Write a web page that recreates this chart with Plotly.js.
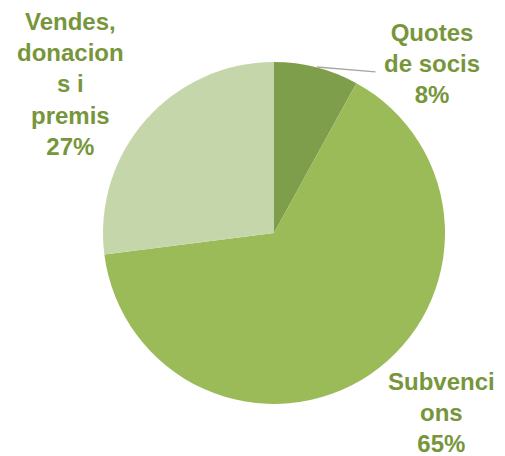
<!DOCTYPE html>
<html>
<head>
<meta charset="utf-8">
<script src="https://cdn.plot.ly/plotly-3.0.1.min.js"></script>
<style>html,body{margin:0;padding:0;background:#fff;}#chart{width:505px;height:456px;}</style>
</head>
<body>
<div id="chart"></div>
<script>
const categories = ["Quotes de socis", "Subvencions", "Vendes, donacions i premis"];
const values = [8, 65, 27];
const labelLines = [["Quotes", "de socis"], ["Subvenci", "ons"], ["Vendes,", "donacion", "s i", "premis"]];
const colors = ["#7f9e4b", "#9bbb59", "#c5d6ab"];

const labelPos = [
  {x: 432, y: 63},
  {x: 441, y: 412},
  {x: 70, y: 84}
];

const W = 505, H = 456;
const annotations = categories.map((c, i) => ({
  text: labelLines[i].join("<br>") + "<br>" + values[i] + "%",
  x: labelPos[i].x / W, y: 1 - labelPos[i].y / H,
  xref: "paper", yref: "paper",
  xanchor: "center", yanchor: "middle",
  showarrow: false,
  align: "center",
  font: {family: "Liberation Sans, Arial, sans-serif", size: 24, color: "#77963c", weight: "bold"}
}));
annotations.push({
  x: 317 / W, y: 1 - 67 / H, xref: "paper", yref: "paper",
  ax: 60, ay: 5, showarrow: true, arrowhead: 0, arrowwidth: 1.3, arrowcolor: "#a6a6a6", text: ""
});

Plotly.newPlot("chart", [{
  type: "pie",
  labels: categories,
  values: values,
  sort: false,
  direction: "clockwise",
  rotation: 0,
  textinfo: "none",
  hoverinfo: "label+percent",
  marker: {colors: colors, line: {width: 0}},
  domain: {x: [103 / W, 445 / W], y: [1 - 404 / H, 1 - 62 / H]},
  showlegend: false
}], {
  width: W, height: H,
  margin: {l: 0, r: 0, t: 0, b: 0},
  paper_bgcolor: "#fff",
  annotations: annotations,
  showlegend: false
}, {displayModeBar: false, staticPlot: true});
</script>
</body>
</html>
